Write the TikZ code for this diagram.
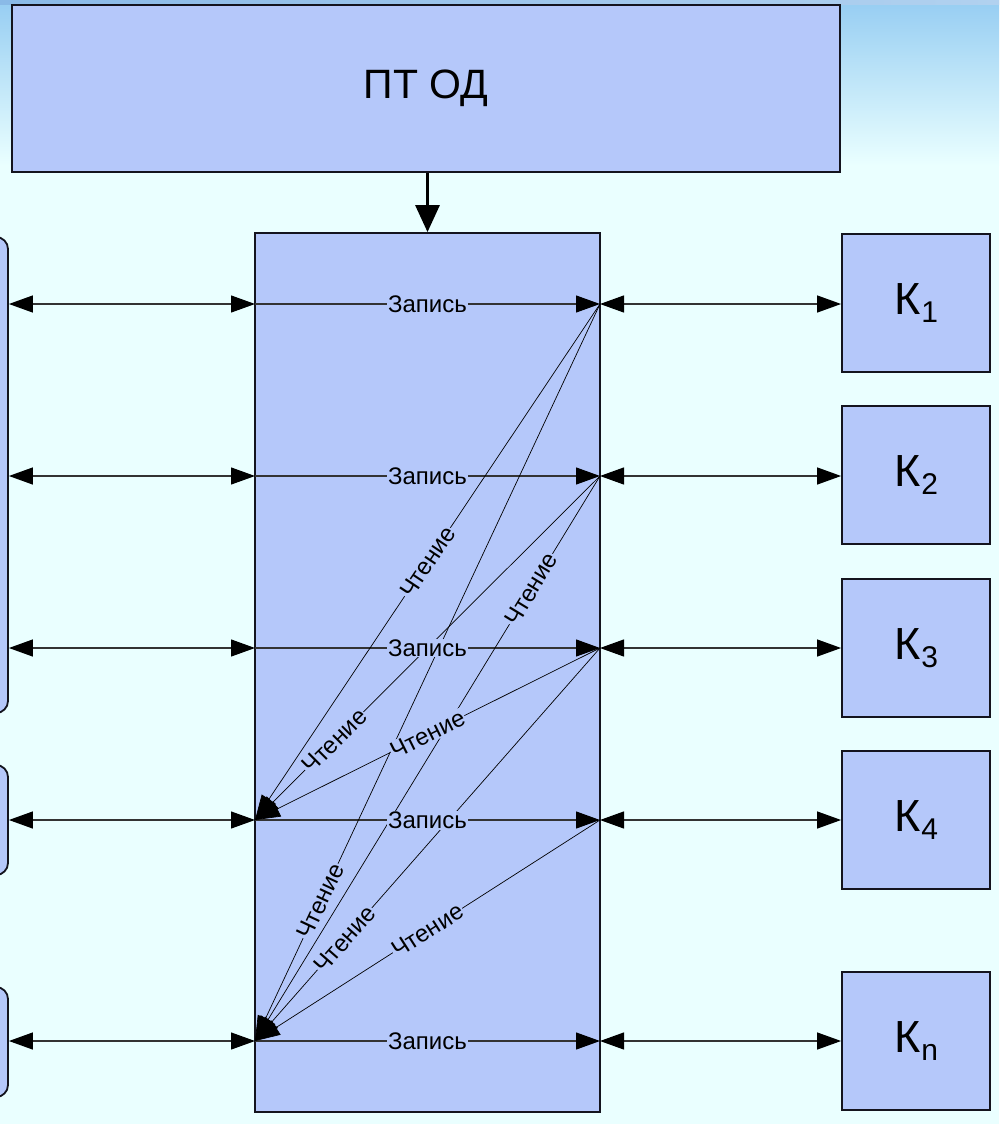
\documentclass[tikz,border=0pt]{standalone}
\usepackage{fontspec}
\setmainfont{Liberation Sans}
\usetikzlibrary{arrows.meta}
\definecolor{bg}{RGB}{234,255,255}
\definecolor{boxfill}{RGB}{181,200,250}
\definecolor{edge}{RGB}{20,20,30}
\definecolor{topblue}{RGB}{150,205,242}
\definecolor{stripblue}{RGB}{60,140,215}
\begin{document}
\begin{tikzpicture}[x=1pt,y=-1pt,
  blk/.style={draw=edge,line width=1.8pt,fill=boxfill,inner sep=0pt},
  kbox/.style={blk,minimum width=148pt,minimum height=138pt,font=\fontsize{45}{48}\selectfont},
  grp/.style={blk,rounded corners=12pt,minimum width=60pt},
  tip/.style={Triangle[length=24pt,width=17pt,color=black]},
  link/.style={line width=1.2pt,draw=black!80,{Triangle[length=24pt,width=17pt,color=black]}-{Triangle[length=24pt,width=17pt,color=black]}},
  wr/.style={line width=1.2pt,draw=black!80,-{Triangle[length=24pt,width=17pt,color=black]}},
  rd/.style={line width=0.7pt,-{Triangle[length=25pt,width=17pt]}},
  lbl/.style={fill=boxfill,inner sep=1pt,font=\fontsize{24}{26}\selectfont},
]
\fill[bg] (0,0) rectangle (999,1124);
\useasboundingbox (0,0) rectangle (999,1124);
\clip (0,0) rectangle (999,1124);
\shade[top color=topblue,bottom color=bg] (0,0) rectangle (999,165);
\shade[left color=stripblue!60,right color=stripblue!40] (0,0) rectangle (999,5);

% main blocks
\node[blk,minimum width=828pt,minimum height=167pt,font=\fontsize{41}{44}\selectfont] (top) at (426,88.5) {ПТ ОД};
\node[blk,minimum width=345pt,minimum height=879pt] (mid) at (427.5,672.5) {};

% left (cut-off) groups
\node[grp,minimum height=476pt] (g1) at (-22,475) {};
\node[grp,minimum height=110pt] (g2) at (-22,820) {};
\node[grp,minimum height=110pt] (g3) at (-22,1042) {};

% right channels
\node[kbox] (k1) at (916,303) {К\kern1pt\raisebox{-8pt}{\fontsize{30}{32}\selectfont 1}};
\node[kbox] (k2) at (916,475) {К\kern1pt\raisebox{-8pt}{\fontsize{30}{32}\selectfont 2}};
\node[kbox] (k3) at (916,648) {К\kern1pt\raisebox{-8pt}{\fontsize{30}{32}\selectfont 3}};
\node[kbox] (k4) at (916,820) {К\kern1pt\raisebox{-8pt}{\fontsize{30}{32}\selectfont 4}};
\node[kbox] (kn) at (916,1041) {К\kern1pt\raisebox{-8pt}{\fontsize{30}{32}\selectfont n}};

% row points
\foreach \i/\y in {1/304,2/476,3/648,4/820,5/1041}{
  \coordinate (l\i) at (255,\y);
  \coordinate (r\i) at (600,\y);
}

% top arrow
\draw[line width=3pt,-{Triangle[length=27pt,width=24pt]}] (mid.north |- top.south) -- (mid.north);

% left links
\draw[link] (g1.east |- l1) -- (l1);
\draw[link] (g1.east |- l2) -- (l2);
\draw[link] (g1.east |- l3) -- (l3);
\draw[link] (g2.east |- l4) -- (l4);
\draw[link] (g3.east |- l5) -- (l5);

% right links
\draw[link] (r1) -- (k1.west |- r1);
\draw[link] (r2) -- (k2.west |- r2);
\draw[link] (r3) -- (k3.west |- r3);
\draw[link] (r4) -- (k4.west |- r4);
\draw[link] (r5) -- (kn.west |- r5);

% writes
\foreach \i in {1,...,5}{ \draw[wr] (l\i) -- (r\i); }

% reads
\draw[rd] (r1) -- (l4);
\draw[rd] (r1) -- (l5);
\draw[rd] (r2) -- (l4);
\draw[rd] (r2) -- (l5);
\draw[rd] (r3) -- (l4);
\draw[rd] (r3) -- (l5);
\draw[rd] (r4) -- (l5);

% labels
\foreach \i in {1,...,5}{ \path (l\i) -- node[lbl]{Запись} (r\i); }
\path (r1) -- node[lbl,sloped,pos=0.5]{Чтение} (l4);
\path (r1) -- node[lbl,sloped,pos=0.81]{Чтение} (l5);
\path (r2) -- node[lbl,sloped,pos=0.77]{Чтение} (l4);
\path (r2) -- node[lbl,sloped,pos=0.2]{Чтение} (l5);
\path (r3) -- node[lbl,sloped,pos=0.5]{Чтение} (l4);
\path (r3) -- node[lbl,sloped,pos=0.74]{Чтение} (l5);
\path (r4) -- node[lbl,sloped,pos=0.5]{Чтение} (l5);
\end{tikzpicture}
\end{document}
